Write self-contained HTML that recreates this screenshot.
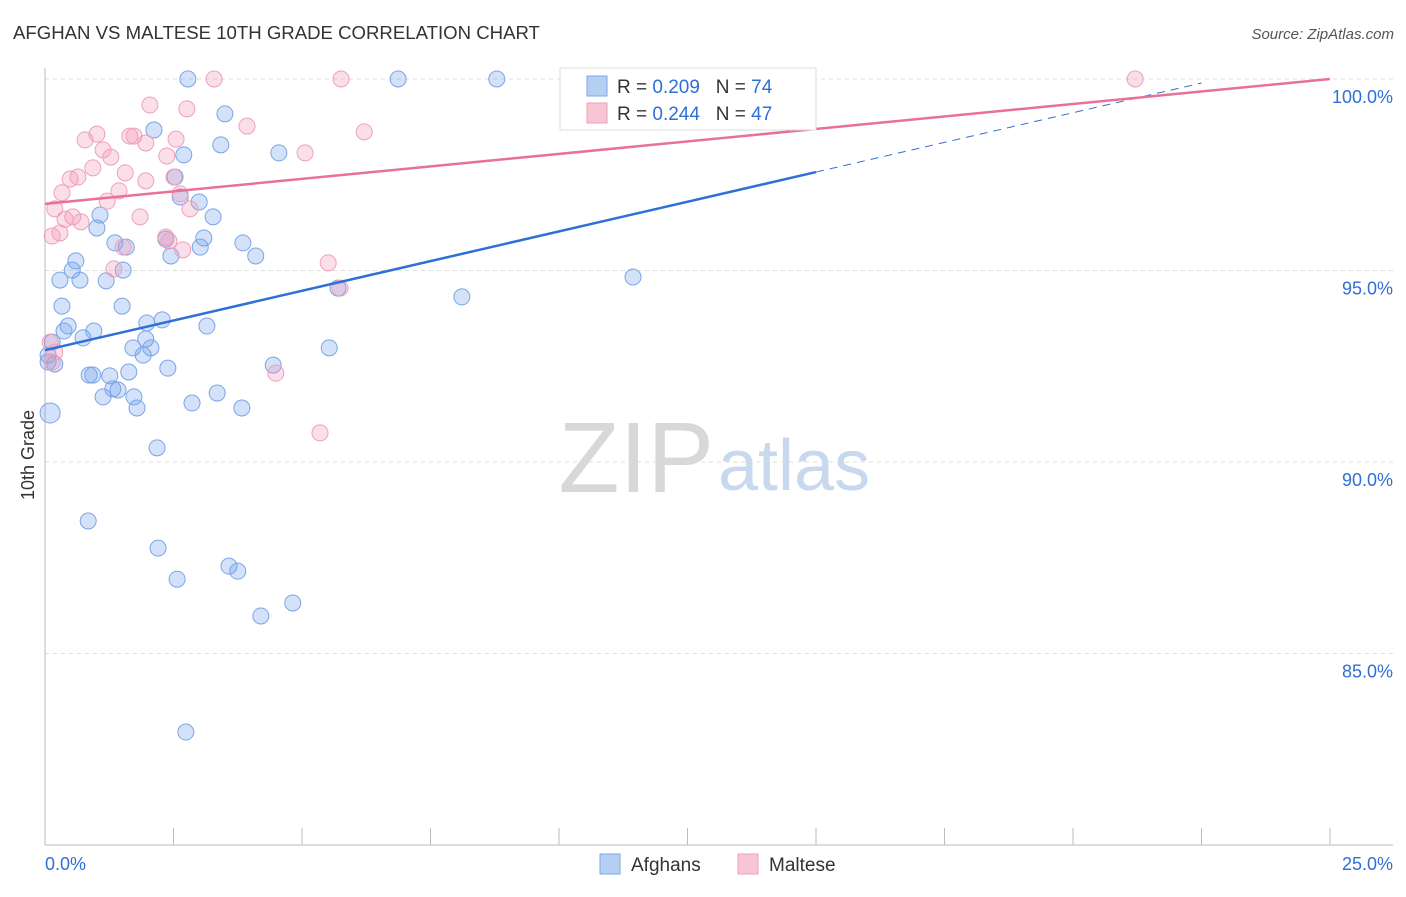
<!DOCTYPE html>
<html><head><meta charset="utf-8"><style>
body{margin:0;background:#fff;font-family:"Liberation Sans",sans-serif;}
svg text{font-family:"Liberation Sans",sans-serif;}
</style></head><body>
<svg id="chart" width="1406" height="892">
<text x="13" y="39" font-size="18.6" fill="#333">AFGHAN VS MALTESE 10TH GRADE CORRELATION CHART</text>
<text x="1394" y="39" font-size="15" fill="#555" text-anchor="end" font-style="italic">Source: ZipAtlas.com</text>
<text x="714" y="492" font-size="100" fill="#d8d8d8" text-anchor="end" font-family="Liberation Serif">ZIP</text>
<text x="718" y="490" font-size="72" fill="#c8d8ef">atlas</text>
<text transform="translate(34,455) rotate(-90)" font-size="18" fill="#333" text-anchor="middle">10th Grade</text>
<g id="grid"></g><g id="pts"></g><g id="lines"></g>
<g>
<rect x="560" y="68" width="256" height="62" fill="#fff" stroke="#ddd"/>
<rect x="587" y="76" width="20" height="20" fill="#b5cff3" stroke="#7aa5e6"/>
<rect x="587" y="103" width="20" height="20" fill="#f8c5d5" stroke="#f0a0ba"/>
<text x="617" y="93" font-size="19" fill="#333">R = <tspan fill="#2f6fd6">0.209</tspan>&#160;&#160;&#160;N = <tspan fill="#2f6fd6">74</tspan></text>
<text x="617" y="120" font-size="19" fill="#333">R = <tspan fill="#2f6fd6">0.244</tspan>&#160;&#160;&#160;N = <tspan fill="#2f6fd6">47</tspan></text>
</g>
<g>
<rect x="600" y="854" width="20" height="20" fill="#b5cff3" stroke="#7aa5e6"/>
<text x="631" y="871" font-size="19" fill="#333">Afghans</text>
<rect x="738" y="854" width="20" height="20" fill="#f8c5d5" stroke="#f0a0ba"/>
<text x="769" y="871" font-size="19" fill="#333">Maltese</text>
</g>
</svg>
<script>
const blueX=[2.78,6.87,8.79,10.41,2.12,3.50,3.42,2.70,4.55,2.53,3.00,2.63,1.07,3.27,1.01,1.36,1.58,3.09,3.85,3.02,2.35,4.10,2.45,0.60,0.53,0.29,0.68,1.19,1.52,11.44,8.11,5.70,0.33,1.50,0.45,0.95,0.37,0.74,3.15,2.28,1.98,1.96,1.71,2.06,1.91,5.53,0.14,0.06,0.19,0.06,2.39,4.44,0.86,0.93,1.26,1.63,1.32,1.42,1.13,1.73,1.79,3.35,2.86,3.83,0.10,2.18,0.84,2.20,2.57,3.58,3.75,4.82,4.20,2.74];
const blueY=[100,100,100,99.19,98.67,99.09,98.28,98.02,98.07,97.44,96.79,96.92,96.45,96.40,96.11,95.72,95.61,95.85,95.72,95.61,95.82,95.38,95.38,95.25,95.01,94.75,94.75,94.73,95.01,94.83,94.31,94.54,94.07,94.07,93.55,93.42,93.42,93.24,93.55,93.71,93.63,93.21,92.98,92.98,92.79,92.98,93.13,92.79,92.56,92.61,92.45,92.53,92.27,92.27,92.25,92.35,91.91,91.88,91.70,91.70,91.41,91.80,91.54,91.41,91.28,90.37,88.46,87.75,86.94,87.28,87.15,86.32,85.98,82.95];
const pinkX=[3.29,5.76,21.21,2.04,2.76,3.93,6.21,1.01,0.78,1.65,1.73,2.55,1.13,1.96,1.28,2.37,5.06,0.93,1.56,0.49,0.64,1.96,2.51,1.44,2.63,0.33,1.21,2.82,0.19,1.85,0.54,0.39,0.70,0.29,0.14,2.35,2.41,2.68,1.52,1.34,5.51,5.74,0.10,0.19,4.49,5.35,0.14];
const pinkY=[100,100,100,99.32,99.22,98.77,98.62,98.56,98.41,98.51,98.51,98.43,98.15,98.33,97.96,97.99,98.07,97.68,97.55,97.39,97.44,97.34,97.44,97.08,97.00,97.03,96.81,96.61,96.61,96.40,96.40,96.34,96.27,95.98,95.90,95.87,95.77,95.54,95.61,95.04,95.20,94.54,93.13,92.87,92.32,90.76,92.61];
const blueTrend=[92.92,0.31];
const pinkTrend=[96.74,0.1304];
const yTicks=[100,95,90,85];
const xTicks=[0,2.5,5,7.5,10,12.5,15,17.5,20,22.5,25];
const NS='http://www.w3.org/2000/svg';
const X=v=>45+v*1285/25, Y=v=>79+(100-v)*38.3;
function mk(t,a,p){const e=document.createElementNS(NS,t);for(const k in a)e.setAttribute(k,a[k]);p.appendChild(e);return e;}
const g=document.getElementById('grid');
yTicks.forEach(v=>{
 const l=mk('line',{x1:45,x2:1393,y1:Y(v),y2:Y(v),stroke:'#ddd','stroke-dasharray':'4,4'},g);
 
 
 const t=mk('text',{x:1393,y:Y(v)+24,'font-size':18,fill:'#2f6fd6','text-anchor':'end'},g);t.textContent=v.toFixed(1)+'%';
 
 
});
mk('line',{x1:45,x2:45,y1:68,y2:845,stroke:'#bbb'},g);
mk('line',{x1:45,x2:1393,y1:845,y2:845,stroke:'#bbb'},g);
xTicks.forEach(v=>{const l=mk('line',{x1:X(v),x2:X(v),y1:828,y2:845,stroke:'#bbb'},g);
 
 });
let t=mk('text',{x:45,y:870,'font-size':18,fill:'#2f6fd6'},g);t.textContent=xTicks[0].toFixed(1)+'%';


t=mk('text',{x:1393,y:870,'font-size':18,fill:'#2f6fd6','text-anchor':'end'},g);t.textContent=xTicks[xTicks.length-1].toFixed(1)+'%';


const p=document.getElementById('pts');
blueX.forEach((x,i)=>{const c=mk('circle',{cx:X(x),cy:Y(blueY[i]),r:(i==64?10:8),fill:'rgba(110,160,235,0.3)',stroke:'#7aa5e6','stroke-width':1},p);
 
 });
pinkX.forEach((x,i)=>{const c=mk('circle',{cx:X(x),cy:Y(pinkY[i]),r:8,fill:'rgba(242,150,180,0.3)',stroke:'#f0a0ba','stroke-width':1},p);
 
 });
const L=document.getElementById('lines');
let a=mk('line',{x1:X(0),y1:Y(blueTrend[0]),x2:X(15),y2:Y(blueTrend[0]+15*blueTrend[1]),stroke:'#2f6fd6','stroke-width':2.5},L);


a=mk('line',{x1:X(15),y1:Y(blueTrend[0]+15*blueTrend[1]),x2:X(22.5),y2:Y(blueTrend[0]+22.5*blueTrend[1]),stroke:'#2f6fd6','stroke-width':1,'stroke-dasharray':'8,6'},L);


a=mk('line',{x1:X(0),y1:Y(pinkTrend[0]),x2:X(25),y2:Y(pinkTrend[0]+25*pinkTrend[1]),stroke:'#e8709a','stroke-width':2.5},L);


</script>
</body></html>
